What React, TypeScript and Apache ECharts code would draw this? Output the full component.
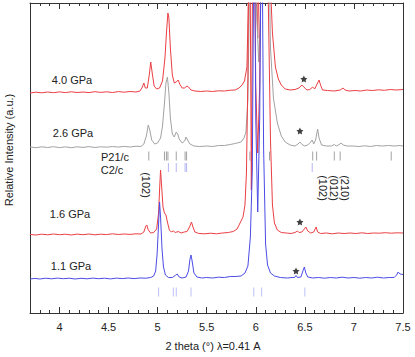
import React, { useEffect, useRef } from 'react';
import * as echarts from 'echarts';

// 2theta (deg) vs. intensity above each pattern's own baseline (arb. units)
const trace11: [number, number][] = [
  [3.70,0],[3.75,0.6],[3.80,0],[3.86,0.8],[3.92,0.2],[3.98,0.9],[4.04,0.3],[4.10,0.8],[4.16,0],[4.22,0.7],[4.28,0.2],[4.34,0.9],[4.40,0.3],[4.46,0.8],[4.52,0.1],[4.58,0.9],[4.64,0.4],[4.70,1],[4.76,0.4],[4.82,1],[4.88,0.8],[4.93,1.5],[4.96,3],[4.98,8],[4.995,25],[5.01,55],[5.02,77],[5.03,62],[5.045,30],[5.06,12],[5.08,4],[5.11,1.5],[5.15,1.5],[5.18,3.5],[5.20,5],[5.22,2],[5.25,1],[5.29,2],[5.315,8],[5.33,20],[5.34,24],[5.35,19],[5.37,6],[5.40,2],[5.45,1],[5.50,1.5],[5.56,1],[5.62,1.8],[5.68,1.5],[5.74,2.5],[5.79,2.5],[5.85,3],[5.89,6],[5.92,13],[5.945,42],[5.965,109],[5.985,400],[6.00,160],[6.02,67],[6.04,160],[6.06,400],[6.08,130],[6.10,35],[6.12,14],[6.15,6],[6.19,3],[6.25,1.5],[6.32,1],[6.37,1.5],[6.395,1.5],[6.41,3.5],[6.425,1.5],[6.46,2],[6.48,8],[6.495,12],[6.51,6],[6.53,2],[6.58,1],[6.64,1.5],[6.70,0.8],[6.76,1.5],[6.82,1],[6.88,1.8],[6.94,1],[7.00,1.5],[7.06,0.8],[7.12,1.5],[7.18,1],[7.24,1.8],[7.30,1],[7.36,1.5],[7.41,1.5],[7.435,4],[7.45,7],[7.47,5],[7.50,4.5],
];
const trace16: [number, number][] = [
  [3.70,0.5],[3.76,0],[3.82,0.8],[3.88,0.2],[3.94,1],[4.00,0.3],[4.06,0.8],[4.12,0],[4.18,0.9],[4.24,0.3],[4.30,1],[4.36,0.2],[4.42,0.8],[4.48,0.4],[4.54,1.2],[4.60,0.5],[4.66,1],[4.72,0.6],[4.78,1.2],[4.83,1],[4.86,3],[4.88,9],[4.89,10],[4.905,5],[4.93,2],[4.96,2.5],[4.99,6],[5.01,22],[5.02,45],[5.03,65],[5.04,50],[5.055,28],[5.07,22],[5.085,20],[5.10,13],[5.12,5],[5.14,3],[5.16,4],[5.18,2.5],[5.21,3.5],[5.24,2],[5.27,3],[5.30,3.5],[5.325,8],[5.345,13],[5.36,8],[5.38,3],[5.42,1.5],[5.48,1.2],[5.54,1.8],[5.60,1.2],[5.66,2],[5.72,2.5],[5.77,3.5],[5.81,6],[5.84,12],[5.87,18],[5.89,30],[5.905,62],[5.92,160],[5.935,400],[5.955,45],[5.975,400],[6.00,150],[6.02,82],[6.04,150],[6.06,400],[6.10,400],[6.125,250],[6.15,95],[6.17,30],[6.19,12],[6.22,5],[6.26,2.5],[6.31,2],[6.36,1.5],[6.40,2.5],[6.425,4],[6.44,2.5],[6.47,3],[6.495,6],[6.51,8],[6.53,4],[6.56,2],[6.59,3],[6.605,6],[6.615,8],[6.63,3],[6.66,1.5],[6.72,2],[6.78,1.2],[6.84,2],[6.90,1.5],[6.96,2],[7.02,1.5],[7.08,2.2],[7.14,1.5],[7.20,2],[7.26,1.8],[7.32,2.3],[7.38,1.8],[7.44,2.2],[7.50,2],
];
const trace26: [number, number][] = [
  [3.70,1],[3.76,0.3],[3.82,1.2],[3.88,0.5],[3.94,1.3],[4.00,0.4],[4.06,1.1],[4.12,0.3],[4.18,1.2],[4.24,0.6],[4.30,1.4],[4.36,0.5],[4.42,1.2],[4.48,0.8],[4.54,1.5],[4.60,0.9],[4.66,1.6],[4.72,1],[4.78,1.8],[4.83,1.5],[4.86,4],[4.885,12],[4.905,23],[4.92,18],[4.94,8],[4.97,4],[5.00,5],[5.03,10],[5.05,22],[5.07,45],[5.085,65],[5.10,71],[5.115,55],[5.13,30],[5.15,14],[5.17,11],[5.19,16],[5.205,14],[5.22,9],[5.25,5],[5.275,7],[5.29,11],[5.305,8],[5.33,4],[5.37,2],[5.43,1.5],[5.50,2],[5.56,1.5],[5.62,2.5],[5.68,2.5],[5.74,3.5],[5.79,4.5],[5.85,6],[5.88,10],[5.90,16],[5.92,48],[5.935,150],[5.945,400],[5.98,200],[6.03,86],[6.07,200],[6.10,400],[6.12,300],[6.15,100],[6.18,50],[6.22,25],[6.26,12],[6.30,6],[6.35,3],[6.40,2],[6.43,4],[6.45,6],[6.47,3.5],[6.50,2],[6.53,3],[6.56,6],[6.575,8],[6.59,4],[6.61,8],[6.63,19],[6.645,10],[6.67,3],[6.72,2],[6.77,2],[6.80,3.5],[6.82,2],[6.85,3.5],[6.87,5],[6.89,3],[6.93,2],[6.99,2],[7.05,1.5],[7.11,2.2],[7.17,1.5],[7.23,2.5],[7.29,2],[7.35,2.5],[7.41,2],[7.47,2.5],[7.50,2],
];
const trace40: [number, number][] = [
  [3.70,0],[3.76,0.8],[3.82,0.2],[3.88,1],[3.94,0.3],[4.00,1.1],[4.06,0.4],[4.12,1.2],[4.18,0.5],[4.24,1],[4.30,0.4],[4.36,1.3],[4.42,0.6],[4.48,1.2],[4.54,0.5],[4.60,1.4],[4.66,0.8],[4.72,1.5],[4.78,1],[4.82,2],[4.845,6],[4.86,10],[4.875,5],[4.895,5],[4.915,18],[4.93,31],[4.945,20],[4.965,7],[4.99,4],[5.02,5],[5.05,12],[5.075,35],[5.09,60],[5.105,80],[5.115,75],[5.13,45],[5.15,18],[5.17,10],[5.19,11],[5.21,13],[5.225,9],[5.25,5],[5.275,5],[5.30,7],[5.315,6],[5.34,3],[5.38,2],[5.44,1.5],[5.50,2],[5.56,1.5],[5.62,2.2],[5.68,2],[5.74,2.8],[5.79,3],[5.83,5],[5.86,8],[5.885,12],[5.91,26],[5.925,90],[5.945,400],[5.98,250],[6.02,55],[6.06,250],[6.10,400],[6.14,300],[6.155,95],[6.17,60],[6.20,26],[6.23,14],[6.26,8],[6.30,4],[6.35,3],[6.40,3.5],[6.44,5],[6.47,8],[6.49,6],[6.52,3],[6.55,3.5],[6.58,6],[6.60,4],[6.62,8],[6.645,13],[6.66,8],[6.68,3],[6.73,2.5],[6.80,2],[6.86,3],[6.89,5],[6.91,3],[6.95,2],[7.01,2.5],[7.07,2],[7.13,3],[7.19,2.5],[7.25,3.2],[7.31,2.7],[7.37,3.5],[7.43,3],[7.50,3.5],
];

// vertical offsets of each pattern (same arb. units)
const offset11 = 34;
const offset16 = 78;
const offset26 = 165;
const offset40 = 220;

// reflection positions (2theta)
const p21cTicks = [4.91, 5.07, 5.09, 5.105, 5.19, 5.28, 5.295, 5.94, 6.14, 6.58, 6.62, 6.80, 6.86, 7.38];
const c2cTicks = [5.11, 5.19, 5.28, 5.295, 6.575];
const ticks11 = [5.01, 5.16, 5.19, 5.34, 5.98, 6.06, 6.50];
const p21cRow = 157;
const c2cRow = 145.5;
const row11 = 21;

// "*" impurity markers [2theta, level]
const stars: [number, number][] = [[6.49, 234], [6.45, 182], [6.45, 91], [6.41, 42]];

const X_MIN = 3.7;
const X_MAX = 7.5;
const Y_MAX = 310;

const RED = '#ea3f43';
const GRAY = '#a2a2a2';
const BLUE = '#4b4be6';
const FONT = '"Liberation Sans", Arial, sans-serif';
const STAR_PATH = 'path://M0,-10 L2.9,-4 9.5,-3.1 4.8,1.5 5.9,8.1 0,5 -5.9,8.1 -4.8,1.5 -9.5,-3.1 -2.9,-4 Z';

const shift = (t: [number, number][], o: number) => t.map(([x, y]) => [x, y + o]);

function lineSeries(data: number[][], color: string) {
  return {
    type: 'line', data, showSymbol: false, symbol: 'none', smooth: false, clip: true,
    lineStyle: { color, width: 1 }, silent: true,
  };
}
function tickSeries(ticks: number[], row: number, color: string) {
  return {
    type: 'scatter', data: ticks.map((t) => [t, row]), symbol: 'rect', symbolSize: [1, 9],
    itemStyle: { color }, silent: true,
  };
}

function txt(text: string, x: number, y: number, rotation = 0, fontSize = 11) {
  return {
    type: 'text', x, y, rotation,
    style: { text, fontSize, fontFamily: FONT, fill: '#222', align: 'center', verticalAlign: 'middle' },
  };
}

export default function App() {
  const ref = useRef<HTMLDivElement>(null);
  useEffect(() => {
    if (!ref.current) return;
    const chart = echarts.init(ref.current, undefined, { renderer: 'svg' });
    const axisCommon = { type: 'value', min: X_MIN, max: X_MAX, splitLine: { show: false } };
    chart.setOption({
      animation: false,
      grid: { left: 30, right: 12, top: 3, bottom: 44 },
      xAxis: [
        {
          ...axisCommon, position: 'bottom', splitNumber: 7,
          axisLine: { lineStyle: { color: '#333', width: 1 } },
          axisTick: { inside: true, length: 6, lineStyle: { color: '#333' } },
          axisLabel: { showMinLabel: false, showMaxLabel: true, color: '#222', fontSize: 11, fontFamily: FONT, margin: 8 },
        },
        {
          ...axisCommon, position: 'bottom', interval: 0.1,
          axisLine: { show: false },
          axisTick: { inside: true, length: 3, lineStyle: { color: '#333' } },
          axisLabel: { show: false },
        },
        {
          ...axisCommon, position: 'top', splitNumber: 7,
          axisLine: { lineStyle: { color: '#333', width: 1 } },
          axisTick: { inside: true, length: 6, lineStyle: { color: '#333' } },
          axisLabel: { show: false },
        },
        {
          ...axisCommon, position: 'top', interval: 0.1,
          axisLine: { show: false },
          axisTick: { inside: true, length: 3, lineStyle: { color: '#333' } },
          axisLabel: { show: false },
        },
      ],
      yAxis: [
        {
          type: 'value', min: 0, max: Y_MAX, position: 'left',
          axisLine: { show: true, lineStyle: { color: '#333' } }, axisTick: { show: false },
          axisLabel: { show: false }, splitLine: { show: false },
        },
        {
          type: 'value', min: 0, max: Y_MAX, position: 'right',
          axisLine: { show: true, lineStyle: { color: '#333' } }, axisTick: { show: false },
          axisLabel: { show: false }, splitLine: { show: false },
        },
      ],
      series: [
        lineSeries(shift(trace40, offset40), RED),
        lineSeries(shift(trace26, offset26), GRAY),
        lineSeries(shift(trace16, offset16), RED),
        lineSeries(shift(trace11, offset11), BLUE),
        tickSeries(p21cTicks, p21cRow, '#8c8c8c'),
        tickSeries(c2cTicks, c2cRow, '#a3a3f0'),
        tickSeries(ticks11, row11, '#aab0f2'),
        {
          type: 'scatter', data: stars, symbol: STAR_PATH, symbolSize: 7,
          itemStyle: { color: '#111' }, silent: true,
        },
      ],
      graphic: [
        txt('4.0 GPa', 72, 80),
        txt('2.6 GPa', 73, 133),
        txt('P21/c', 115, 157),
        txt('C2/c', 112, 170),
        txt('1.6 GPa', 70, 214),
        txt('1.1 GPa', 71, 266),
        txt('(102)', 146, 185, -Math.PI / 2),
        txt('(102)', 323, 188, -Math.PI / 2),
        txt('(012)', 334, 188, -Math.PI / 2),
        txt('(210)', 345, 188, -Math.PI / 2),
        txt('Relative Intensity (a.u.)', 9, 150, Math.PI / 2),
        txt('2 theta (°) λ=0.41 A', 213, 346),
      ],
    });
    return () => chart.dispose();
  }, []);
  return <div ref={ref} style={{ position: 'absolute', left: 0, top: 0, width: 415, height: 357 }} />;
}
